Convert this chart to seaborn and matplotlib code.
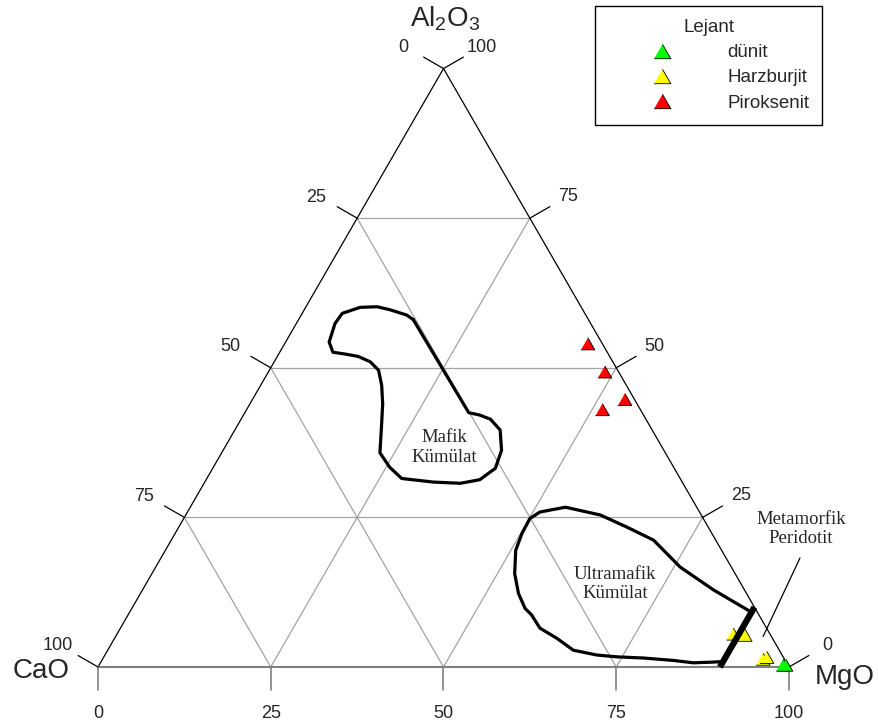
import numpy as np
import pandas as pd
import matplotlib
matplotlib.use("Agg")
import matplotlib.pyplot as plt
from matplotlib.markers import MarkerStyle
from matplotlib.lines import Line2D
import seaborn as sns

# Sample compositions (%); CaO is the remainder to 100
rock_types = ["dünit", "Harzburjit", "Piroksenit"]
dunit_mgo = [99.0, 99.4]
dunit_al2o3 = [0.3, 0.3]
harzburjit_mgo = [89.2, 91.0, 95.6, 96.0]
harzburjit_al2o3 = [5.5, 5.3, 1.3, 1.6]
piroksenit_mgo = [43.9, 48.7, 53.9, 51.5]
piroksenit_al2o3 = [54.0, 49.3, 44.7, 43.0]
rock_colors = ["#00ff00", "#ffff00", "#ff0000"]

# Field boundaries (MgO, Al2O3)
mafik_mgo = [16.6, 15.3, 12.4, 10.3, 7.9, 5.8, 5.6, 6.3, 7.7, 9.6, 11.7, 13.9,
             15.8, 17.5, 19.2, 20.7, 22.9, 25.5, 28.2, 33.1, 37.1, 39.6, 40.9,
             40.3, 38.4, 36.1, 34.2, 32.4, 16.6]
mafik_al2o3 = [58.05, 58.8, 59.7, 60.2, 60.1, 59.1, 57.4, 54.3, 52.6, 52.3, 51.9,
               51.0, 49.6, 47.1, 44.0, 40.7, 35.8, 33.4, 31.5, 30.9, 30.7, 31.3,
               33.2, 36.2, 39.6, 41.4, 42.1, 42.5, 58.05]
ultramafik_mgo = [89.9, 82.6, 75.9, 69.8, 64.8, 60.0, 54.3, 51.0, 50.1, 50.2, 50.7,
                  52.5, 54.7, 56.9, 58.4, 60.7, 64.0, 67.4, 71.2, 74.2, 78.2, 82.7,
                  85.8, 88.2, 89.9]
ultramafik_al2o3 = [9.2, 12.9, 16.7, 21.2, 23.4, 25.4, 26.7, 25.9, 24.8, 22.3, 19.5,
                    15.6, 12.3, 9.8, 8.7, 6.5, 4.8, 2.8, 2.0, 1.7, 1.5, 1.1,
                    0.7, 0.8, 0.9]
metamorfik_mgo = [90.0, 90.0]
metamorfik_al2o3 = [0.0, 10.0]
metamorfik_anchor = (93.7, 5.1)

axis_ticks = [0, 25, 50, 75, 100]
grid_levels = [25, 50, 75]

SQ = np.sqrt(3) / 2
PX = 6.91  # pixels per percent along an edge


def tern(mgo, al2o3):
    """Ternary (MgO, Al2O3) -> cartesian with CaO at origin, MgO at (100, 0)."""
    mgo = np.asarray(mgo, float)
    al = np.asarray(al2o3, float)
    return mgo + al / 2, al * SQ


sns.set_theme(style="white")
plt.rcParams["font.family"] = ["Liberation Sans", "DejaVu Sans"]
plt.rcParams["mathtext.fontset"] = "custom"
plt.rcParams["mathtext.rm"] = "Liberation Sans"
plt.rcParams["mathtext.it"] = "Liberation Sans:italic"
plt.rcParams["mathtext.bf"] = "Liberation Sans:bold"

fig = plt.figure(figsize=(8.79, 7.27), dpi=100)
ax = fig.add_axes([0, 0, 1, 1])
ax.set_xlim(-98 / PX, (879 - 98) / PX)
ax.set_ylim(-60 / PX, 667 / PX)
ax.axis("off")

GRID = "#a3a3a3"
# grid lines at 25 / 50 / 75
for v in grid_levels:
    for (m0, a0), (m1, a1) in [((0, v), (100 - v, v)),
                               ((v, 0), (v, 100 - v)),
                               ((100 - v, 0), (0, 100 - v))]:
        ax.plot(*tern([m0, m1], [a0, a1]), color=GRID, lw=0.9, zorder=1)

# triangle frame
ax.plot(*tern([0, 0], [0, 100]), color="black", lw=0.9, zorder=2)
ax.plot(*tern([100, 0], [0, 100]), color="black", lw=0.9, zorder=2)
ax.plot(*tern([0, 100], [0, 0]), color="#808080", lw=1.5, zorder=2)

# ticks and tick labels
TL = 23 / PX
c30, s30 = np.cos(np.pi / 6), np.sin(np.pi / 6)
for v in axis_ticks:
    # bottom: MgO
    bx, by = tern(v, 0)
    ax.plot([bx, bx], [by, by - TL], color="#808080", lw=1.2, zorder=2)
    ax.text(bx, by - 46 / PX, f"{v}", ha="center", va="center", fontsize=13)
    # left: CaO
    lx, ly = tern(0, 100 - v)
    ax.plot([lx, lx - TL * c30], [ly, ly + TL * s30], color="black", lw=0.9, zorder=2)
    ax.text(lx - 40.5 / PX, ly + 21 / PX, f"{v}", ha="center", va="center", fontsize=13)
    # right: Al2O3
    rx, ry = tern(100 - v, v)
    ax.plot([rx, rx + TL * c30], [ry, ry + TL * s30], color="black", lw=0.9, zorder=2)
    ax.text(rx + 38.5 / PX, ry + 21.5 / PX, f"{v}", ha="center", va="center", fontsize=13)

# corner labels
ax.text(*tern(0, 0) + np.array([-56.5 / PX, -4 / PX]), "CaO",
        ha="center", va="center", fontsize=20)
ax.text(*tern(100, 0) + np.array([56 / PX, -10.5 / PX]), "MgO",
        ha="center", va="center", fontsize=20)
ax.text(*tern(0, 100) + np.array([0.2, 42 / PX]), r"Al$_2$O$_3$",
        ha="center", va="baseline", fontsize=20)

# sample points
frames = []
for name, mg, al in zip(rock_types,
                        [dunit_mgo, harzburjit_mgo, piroksenit_mgo],
                        [dunit_al2o3, harzburjit_al2o3, piroksenit_al2o3]):
    x, y = tern(mg, al)
    frames.append(pd.DataFrame({"x": x, "y": y, "Kaya": name}))
df = pd.concat(frames, ignore_index=True)

tri = MarkerStyle([(-1, -0.866), (1, -0.866), (0, 0.866)])
palette = dict(zip(rock_types, rock_colors))
sns.scatterplot(data=df, x="x", y="y", hue="Kaya", palette=palette, marker=tri,
                s=100, edgecolor="black", linewidth=0.6, legend=False, ax=ax, zorder=3)

# field boundaries
ax.plot(*tern(mafik_mgo, mafik_al2o3), color="black", lw=2.3, zorder=4,
        solid_joinstyle="round")
ax.plot(*tern(ultramafik_mgo, ultramafik_al2o3), color="black", lw=2.3, zorder=4,
        solid_joinstyle="round")
ax.plot(*tern(metamorfik_mgo, metamorfik_al2o3), color="black", lw=4.5, zorder=4,
        solid_capstyle="butt")

# field names
serif = ["Liberation Serif", "DejaVu Serif"]
ax.text((444 - 98) / PX, (667 - 447.5) / PX, "Mafik\nKümülat", ha="center",
        va="center", ma="center", fontsize=13.5, family=serif, linespacing=1.2)
ax.text((615 - 98) / PX, (667 - 584) / PX, "Ultramafik\nKümülat", ha="center",
        va="center", ma="center", fontsize=13.5, family=serif, linespacing=1.2)
ax.text((801 - 98) / PX, (667 - 529) / PX, "Metamorfik\nPeridotit", ha="center",
        va="center", ma="center", fontsize=13.5, family=serif, linespacing=1.2)
ax.annotate("", xy=tern(*metamorfik_anchor), xytext=((800 - 98) / PX, (667 - 558) / PX),
            arrowprops=dict(arrowstyle="-", color="black", lw=0.9, shrinkA=0, shrinkB=0))

# legend
handles = [Line2D([], [], ls="none", marker=tri, markersize=12, markerfacecolor=c,
                  markeredgecolor="black", markeredgewidth=0.6) for c in rock_colors]
leg = ax.legend(handles, rock_types, title="Lejant", loc="upper left",
                bbox_to_anchor=(595 / 879, 1 - 6 / 727), bbox_transform=fig.transFigure,
                borderaxespad=0, fontsize=13.5, title_fontsize=13.5, frameon=True,
                fancybox=False, framealpha=1, edgecolor="black", handlelength=5.76,
                handletextpad=0.59, labelspacing=0.43, borderpad=0.7)
leg.get_frame().set_linewidth(1.0)

fig.savefig("out.png", dpi=100)
